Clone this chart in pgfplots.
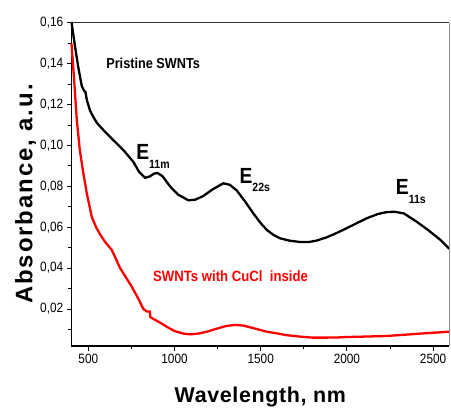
\documentclass[border=0pt]{standalone}
\usepackage{pgfplots}
\pgfplotsset{compat=1.18}
\usepackage{fontspec}
\setmainfont{Liberation Sans}
\newfontfamily\nar[FakeStretch=0.88]{Liberation Sans}
\newfontfamily\ylabfont[LetterSpace=8]{Liberation Sans}
\newfontfamily\xlabfont[LetterSpace=3]{Liberation Sans}
\begin{document}
\begin{tikzpicture}
\begin{axis}[
  scale only axis, width=378bp, height=323.3bp,
  xmin=401, xmax=2594, ymin=0.0019, ymax=0.1601,
  axis lines*=left,
  axis line style={-, line width=1.3bp, black},
  tick align=outside, major tick length=4.5bp, minor tick length=2.8bp,
  tick style={line width=1bp, black},
  xtick={500,1000,1500,2000,2500}, minor xtick={750,1250,1750,2250},
  ytick={0.02,0.04,0.06,0.08,0.10,0.12,0.14,0.16},
  minor ytick={0.01,0.03,0.05,0.07,0.09,0.11,0.13,0.15},
  ticklabel style={font=\nar\fontsize{13.5}{13.5}\selectfont},
  yticklabel style={/pgf/number format/.cd, fixed, fixed zerofill, precision=2, use comma, assume math mode=true},
  xticklabel style={/pgf/number format/.cd, 1000 sep={}, assume math mode=true},
  clip=false,
]
\addplot[black, line width=2.3bp] coordinates {
(402,0.1605) (420,0.150) (440,0.139) (462,0.129) (475,0.1268) (483,0.1262) (491,0.1223)
(510,0.117) (529,0.114) (550,0.111) (587,0.1076) (640,0.103) (703,0.0978) (761,0.092)
(795,0.087) (829,0.0842) (855,0.0848) (880,0.0862) (900,0.0866) (930,0.0850) (974,0.0800)
(1020,0.0760) (1080,0.0732) (1120,0.0735) (1165,0.0752) (1220,0.0785) (1283,0.0815)
(1320,0.0808) (1361,0.0780) (1410,0.0725) (1457,0.0668) (1500,0.0620) (1535,0.0587)
(1575,0.0562) (1612,0.0546) (1670,0.0534) (1728,0.0528) (1780,0.0528) (1825,0.0535)
(1880,0.0550) (1930,0.0568) (1978,0.0587) (2050,0.0617) (2115,0.0644) (2180,0.0665)
(2230,0.0674) (2275,0.0676) (2330,0.0668) (2405,0.0627) (2470,0.0587) (2540,0.0540)
(2594,0.0495)
};
\addplot[red, line width=2.3bp] coordinates {
(402,0.150) (415,0.135) (433,0.1125) (450,0.098) (471,0.0864) (491,0.0766) (520,0.0650)
(545,0.060) (568,0.0565) (600,0.0525) (636,0.0489) (684,0.0400) (720,0.0352) (752,0.0309)
(790,0.0250) (819,0.0200) (840,0.0188) (856,0.0188) (860,0.0160) (880,0.0150) (917,0.0133)
(955,0.0113) (1000,0.0092) (1050,0.0080) (1090,0.0076) (1140,0.0080) (1187,0.0089)
(1250,0.0105) (1300,0.0117) (1350,0.0122) (1399,0.0119) (1450,0.0108) (1535,0.0089)
(1593,0.0081) (1650,0.0072) (1728,0.0065) (1800,0.0060) (1883,0.0060) (1950,0.0061)
(2000,0.0063) (2100,0.0065) (2231,0.0068) (2350,0.0075) (2450,0.0081) (2520,0.0085)
(2594,0.0089)
};
\draw[line width=1bp, black!80] (rel axis cs:0,1) -- (rel axis cs:1,1);
\draw[line width=0.8bp, black!45] (rel axis cs:1,0) -- (rel axis cs:1,1);
\node[font=\nar\bfseries\fontsize{14.5}{14.5}\selectfont, anchor=center] at (axis cs:876,0.1404) {Pristine SWNTs};
\node[font=\nar\bfseries\fontsize{15}{15}\selectfont, text=red, anchor=base west, inner sep=0pt] at (axis cs:875,0.0337) {SWNTs with CuCl\ \ inside};
\node[anchor=base west, inner sep=0pt, font=\nar\bfseries] at (axis cs:777,0.0933) {{\fontsize{22}{22}\selectfont E}\raisebox{-9bp}{\fontsize{12}{12}\selectfont 11m}};
\node[anchor=base west, inner sep=0pt, font=\nar\bfseries] at (axis cs:1376,0.0815) {{\fontsize{22}{22}\selectfont E}\raisebox{-8.5bp}{\fontsize{12}{12}\selectfont 22s}};
\node[anchor=base west, inner sep=0pt, font=\nar\bfseries] at (axis cs:2283,0.0758) {{\fontsize{22}{22}\selectfont E}\raisebox{-9bp}{\fontsize{12}{12}\selectfont 11s}};
\node[anchor=base, font=\xlabfont\bfseries\fontsize{21.5}{21.5}\selectfont] at (rel axis cs:0.5,-0.1763) {Wavelength, nm};
\node[anchor=base, rotate=90, font=\ylabfont\bfseries\fontsize{24}{24}\selectfont] at (rel axis cs:-0.1032,0.470) {Absorbance, a.u.};
\end{axis}
\pgfresetboundingbox
\path ([shift={(-71.3bp,-63bp)}]current axis.south west) rectangle ([shift={(1.7bp,22.7bp)}]current axis.north east);
\end{tikzpicture}
\end{document}
